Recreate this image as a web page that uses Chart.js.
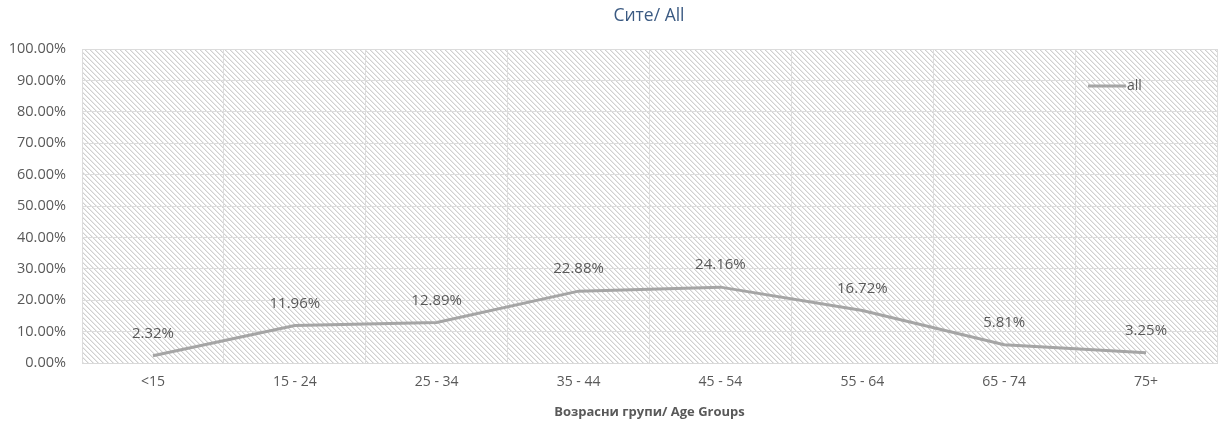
<!DOCTYPE html>
<html lang="en">
<head>
    <meta charset="UTF-8">
    <title>Сите/ All</title>
    <script src="https://cdn.jsdelivr.net/npm/chart.js"></script>
    <style>
        html, body { margin: 0; padding: 0; background: #fff; }
        #wrap { width: 1231px; height: 424px; }
    </style>
</head>
<body>
<div id="wrap"><canvas id="ageChart" width="1231" height="424"></canvas></div>
<script>
const ageGroups = ['<15', '15 - 24', '25 - 34', '35 - 44', '45 - 54', '55 - 64', '65 - 74', '75+'];
const allShares = [2.32, 11.96, 12.89, 22.88, 24.16, 16.72, 5.81, 3.25];
const yTicks = [0, 10, 20, 30, 40, 50, 60, 70, 80, 90, 100];

const FONT = "'Open Sans', 'Noto Sans', sans-serif";

// diagonal hatch tile for the plot background
function makeHatch(ctx) {
    const n = 5;
    const tile = document.createElement('canvas');
    tile.width = n;
    tile.height = n;
    const t = tile.getContext('2d');
    const img = t.createImageData(n, n);
    for (let y = 0; y < n; y++) {
        for (let x = 0; x < n; x++) {
            const d = ((x - y) % n + n) % n;
            let v = 255;
            if (d === 0) v = 208;
            else if (d === 1) v = 234;
            const i = (y * n + x) * 4;
            img.data[i] = img.data[i + 1] = img.data[i + 2] = v;
            img.data[i + 3] = 255;
        }
    }
    t.putImageData(img, 0, 0);
    return ctx.createPattern(tile, 'repeat');
}

const decor = {
    id: 'decor',
    beforeDraw(chart) {
        const {ctx, chartArea: a} = chart;
        ctx.save();
        ctx.fillStyle = makeHatch(ctx);
        ctx.fillRect(a.left, a.top, a.right - a.left, a.bottom - a.top);
        ctx.restore();
    },
    afterDatasetsDraw(chart) {
        const {ctx} = chart;
        const ds = chart.data.datasets[0];
        const meta = chart.getDatasetMeta(0);
        ctx.save();
        // value labels above each point
        ctx.font = '15px ' + FONT;
        ctx.fillStyle = '#595959';
        ctx.textAlign = 'center';
        ctx.textBaseline = 'middle';
        meta.data.forEach((pt, i) => {
            ctx.fillText(ds.data[i].toFixed(2) + '%', pt.x, pt.y - 22);
        });
        // legend inside the plot, top right
        const ly = 86;
        ctx.strokeStyle = ds.borderColor;
        ctx.lineWidth = 3;
        ctx.beginPath();
        ctx.moveTo(1088, ly);
        ctx.lineTo(1126, ly);
        ctx.stroke();
        ctx.font = '14px ' + FONT;
        ctx.textAlign = 'left';
        ctx.fillText(ds.label, 1127, ly);
        // title
        ctx.font = '17.5px ' + FONT;
        ctx.fillStyle = '#3b5a82';
        ctx.textAlign = 'center';
        ctx.fillText('Сите/ All', 649, 16);
        ctx.restore();
    }
};

new Chart(document.getElementById('ageChart'), {
    type: 'line',
    data: {
        labels: ageGroups,
        datasets: [{
            label: 'all',
            data: allShares,
            borderColor: '#a5a5a5',
            borderWidth: 3,
            pointRadius: 0,
            tension: 0,
            fill: false
        }]
    },
    options: {
        responsive: false,
        animation: false,
        layout: {padding: {top: 49, right: 14, bottom: 0, left: 0}},
        plugins: {
            legend: {display: false},
            tooltip: {enabled: false},
            title: {display: false}
        },
        scales: {
            x: {
                offset: true,
                grid: {offset: true, color: '#dcdcdc', lineWidth: 1, drawTicks: false},
                border: {color: '#d9d9d9'},
                ticks: {color: '#595959', font: {family: FONT, size: 14}, padding: 11},
                title: {
                    display: true,
                    text: 'Возрасни групи/ Age Groups',
                    color: '#595959',
                    font: {family: FONT, size: 13, weight: 'bold'},
                    padding: {top: 0}
                },
                afterFit(scale) { scale.height = 61; }
            },
            y: {
                min: 0,
                max: 100,
                afterBuildTicks(scale) { scale.ticks = yTicks.map(v => ({value: v})); },
                grid: {color: '#dcdcdc', lineWidth: 1, drawTicks: false},
                border: {display: false},
                ticks: {
                    color: '#595959',
                    font: {family: FONT, size: 14.5},
                    padding: 16,
                    callback: v => v.toFixed(2) + '%'
                },
                afterFit(scale) { scale.width = 82; }
            }
        }
    },
    plugins: [decor]
});
</script>
</body>
</html>
